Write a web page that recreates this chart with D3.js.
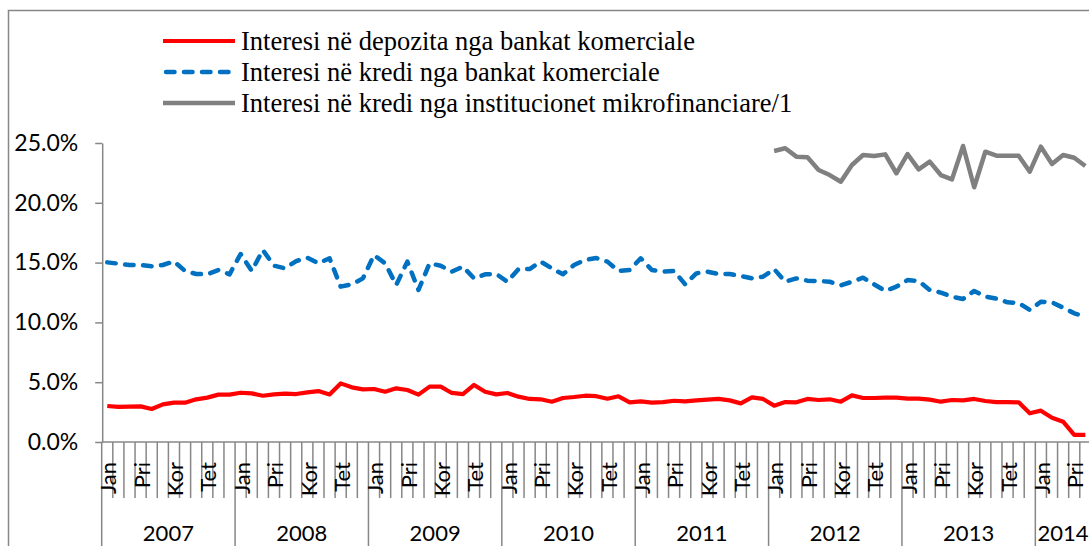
<!DOCTYPE html>
<html>
<head>
    <meta charset="utf-8">
    <script src="https://d3js.org/d3.v7.min.js"></script>
    <style>
        body { margin: 0; background: #fff; }
    </style>
</head>
<body>
    <svg id="chart"></svg>

    <script>
        // Series names (legend)
        const seriesNames = [
            "Interesi në depozita nga bankat komerciale",
            "Interesi në kredi nga bankat komerciale",
            "Interesi në kredi nga institucionet mikrofinanciare/1"
        ];

        // Category labels
        const years = ["2007", "2008", "2009", "2010", "2011", "2012", "2013", "2014"];
        const monthNames = ["Jan", "Shk", "Mar", "Pri", "Maj", "Qer", "Kor", "Gsh", "Sht", "Tet", "Nën", "Dhj"];
        const monthsIn2014 = 5;

        // Monthly values in %, Jan 2007 - May 2014
        const deposits = [
            3.01, 2.93, 2.95, 2.98, 2.76, 3.15, 3.29, 3.29, 3.57, 3.71, 3.96, 3.96,
            4.12, 4.07, 3.87, 3.98, 4.04, 4.01, 4.15, 4.26, 3.98, 4.90, 4.57, 4.40,
            4.43, 4.20, 4.49, 4.35, 3.96, 4.63, 4.63, 4.10, 4.01, 4.77, 4.20, 3.98,
            4.10, 3.79, 3.60, 3.57, 3.37, 3.68, 3.76, 3.87, 3.83, 3.62, 3.82, 3.32,
            3.40, 3.29, 3.34, 3.45, 3.40, 3.48, 3.54, 3.60, 3.48, 3.23, 3.73, 3.60,
            3.04, 3.34, 3.32, 3.60, 3.51, 3.57, 3.37, 3.90, 3.68, 3.68, 3.71, 3.71,
            3.62, 3.62, 3.54, 3.37, 3.51, 3.48, 3.60, 3.43, 3.34, 3.34, 3.32, 2.40,
            2.62, 2.03, 1.70, 0.59, 0.59
        ];
        const loans = [
            15.02, 14.91, 14.80, 14.80, 14.70, 14.80, 15.10, 14.30, 14.05, 14.02, 14.38, 14.02,
            15.72, 14.30, 16.05, 14.74, 14.52, 15.13, 15.41, 14.94, 15.36, 12.99, 13.18, 13.68,
            15.63, 14.94, 13.13, 15.08, 12.71, 14.94, 14.74, 14.24, 14.66, 13.68, 14.02, 14.05,
            13.40, 14.46, 14.46, 15.08, 14.52, 14.02, 14.80, 15.22, 15.38, 15.08, 14.30, 14.38,
            15.36, 14.38, 14.24, 14.30, 13.18, 14.10, 14.24, 14.05, 14.05, 13.88, 13.68, 13.82,
            14.46, 13.40, 13.68, 13.49, 13.46, 13.40, 13.10, 13.40, 13.74, 13.18, 12.63, 12.99,
            13.54, 13.46, 12.71, 12.49, 12.15, 11.96, 12.63, 12.15, 11.99, 11.68, 11.62, 11.04,
            11.73, 11.68, 11.23, 10.76, 10.48
        ];
        // Microfinance series starts Jan 2012
        const microStart = 60;
        const micro = [
            24.33, 24.56, 23.86, 23.80, 22.74, 22.32, 21.76, 23.16, 24.00, 23.91, 24.05, 22.47,
            24.08, 22.80, 23.44, 22.32, 21.96, 24.75, 21.30, 24.27, 23.94, 23.94, 23.94, 22.60,
            24.69, 23.24, 24.00, 23.77, 23.08
        ];
        const yTicks = [0, 5, 10, 15, 20, 25];

        // Sizes
        const width = 1089;
        const height = 546;
        const plotLeft = 101.7;
        const plotRight = 1090.9;
        const plotTop = 143;
        const plotBottom = 442;
        const gridGray = "#878787";

        const svg = d3.select("#chart")
            .attr("width", width)
            .attr("height", height);

        svg.append("rect")
            .attr("width", width).attr("height", height)
            .attr("fill", "#fff");

        // Chart border (right and bottom run out of frame)
        svg.append("rect")
            .attr("x", 8.5).attr("y", 10.5)
            .attr("width", 1100).attr("height", 560)
            .attr("fill", "none")
            .attr("stroke", gridGray)
            .attr("stroke-width", 1.5);

        // Build month index list
        const nMonths = (years.length - 1) * 12 + monthsIn2014;
        const idx = d3.range(nMonths);

        const x = d3.scaleBand()
            .domain(idx)
            .range([plotLeft, plotRight])
            .padding(0);
        const xc = i => x(i) + x.bandwidth() / 2;

        const y = d3.scaleLinear()
            .domain([0, 25])
            .range([plotBottom, plotTop]);

        // Y axis
        const yAxis = svg.append("g")
            .attr("transform", `translate(${plotLeft + 0.5},0)`)
            .call(d3.axisLeft(y)
                .tickValues(yTicks)
                .tickFormat(d => d.toFixed(1) + "%")
                .tickSize(7)
                .tickPadding(17)
                .tickSizeOuter(0));
        yAxis.selectAll("path, line").attr("stroke", gridGray).attr("stroke-width", 1.5);
        yAxis.selectAll("text")
            .attr("font-family", "Lato, 'Open Sans', sans-serif")
            .attr("font-size", "23px")
            .attr("fill", "#000");

        // X axis line
        svg.append("line")
            .attr("x1", plotLeft).attr("x2", plotRight)
            .attr("y1", y(0)).attr("y2", y(0))
            .attr("stroke", gridGray).attr("stroke-width", 1.5);

        // Month tick marks at category boundaries
        const xAxis = svg.append("g");
        xAxis.selectAll("line.month")
            .data(d3.range(nMonths + 1))
            .enter()
            .append("line")
            .attr("class", "month")
            .attr("x1", i => (i < nMonths ? x(i) : plotRight))
            .attr("x2", i => (i < nMonths ? x(i) : plotRight))
            .attr("y1", y(0))
            .attr("y2", i => (i % 12 === 0 || i === nMonths ? height + 10 : 498))
            .attr("stroke", gridGray)
            .attr("stroke-width", 1.5);

        // Month labels, every third month
        xAxis.selectAll("text.month")
            .data(idx.filter(i => i % 3 === 0))
            .enter()
            .append("text")
            .attr("class", "month")
            .attr("transform", i => `translate(${xc(i) + 1.5},462) rotate(-90)`)
            .attr("text-anchor", "end")
            .attr("dy", "0.35em")
            .attr("font-family", "Lato, 'Open Sans', sans-serif")
            .attr("font-size", "22px")
            .text(i => monthNames[i % 12]);

        // Year labels
        xAxis.selectAll("text.year")
            .data(years)
            .enter()
            .append("text")
            .attr("class", "year")
            .attr("x", (d, k) => {
                const a = x(k * 12);
                const last = Math.min((k + 1) * 12, nMonths) - 1;
                const b = x(last) + x.bandwidth();
                return (a + b) / 2;
            })
            .attr("y", 541)
            .attr("text-anchor", "middle")
            .attr("font-family", "Lato, 'Open Sans', sans-serif")
            .attr("font-size", "22px")
            .text(d => d);

        // Lines
        const line = d3.line()
            .x(d => xc(d.i))
            .y(d => y(d.v));

        const series = [
            { name: seriesNames[0], color: "#ff0000", dash: null, width: 4.2,
              values: deposits.map((v, i) => ({ i: i, v: v })) },
            { name: seriesNames[1], color: "#0070c0", dash: "8.5,9.5", width: 4.5,
              values: loans.map((v, i) => ({ i: i, v: v })) },
            { name: seriesNames[2], color: "#808080", dash: null, width: 4.5,
              values: micro.map((v, k) => ({ i: microStart + k, v: v })) }
        ];

        svg.selectAll("path.series")
            .data(series)
            .enter()
            .append("path")
            .attr("class", "series")
            .attr("d", d => line(d.values))
            .attr("fill", "none")
            .attr("stroke", d => d.color)
            .attr("stroke-width", d => d.width)
            .attr("stroke-dasharray", d => d.dash)
            .attr("stroke-linecap", d => (d.dash ? "round" : "butt"))
            .attr("stroke-linejoin", "round");

        // Legend
        const legend = svg.append("g");
        const legendRows = legend.selectAll("g")
            .data(series)
            .enter()
            .append("g")
            .attr("transform", (d, k) => `translate(0,${41 + k * 31})`);

        legendRows.append("line")
            .attr("x1", d => (d.dash ? 166 : 163)).attr("x2", d => (d.dash ? 233 : 235))
            .attr("y1", 0).attr("y2", 0)
            .attr("stroke", d => d.color)
            .attr("stroke-width", d => d.width)
            .attr("stroke-dasharray", d => d.dash)
            .attr("stroke-linecap", d => (d.dash ? "round" : "butt"));

        legendRows.append("text")
            .attr("x", 241)
            .attr("y", 9)
            .attr("font-family", "'Liberation Serif', 'Times New Roman', serif")
            .attr("font-size", "26.5px")
            .attr("fill", "#000")
            .text(d => d.name);
    </script>
</body>
</html>
